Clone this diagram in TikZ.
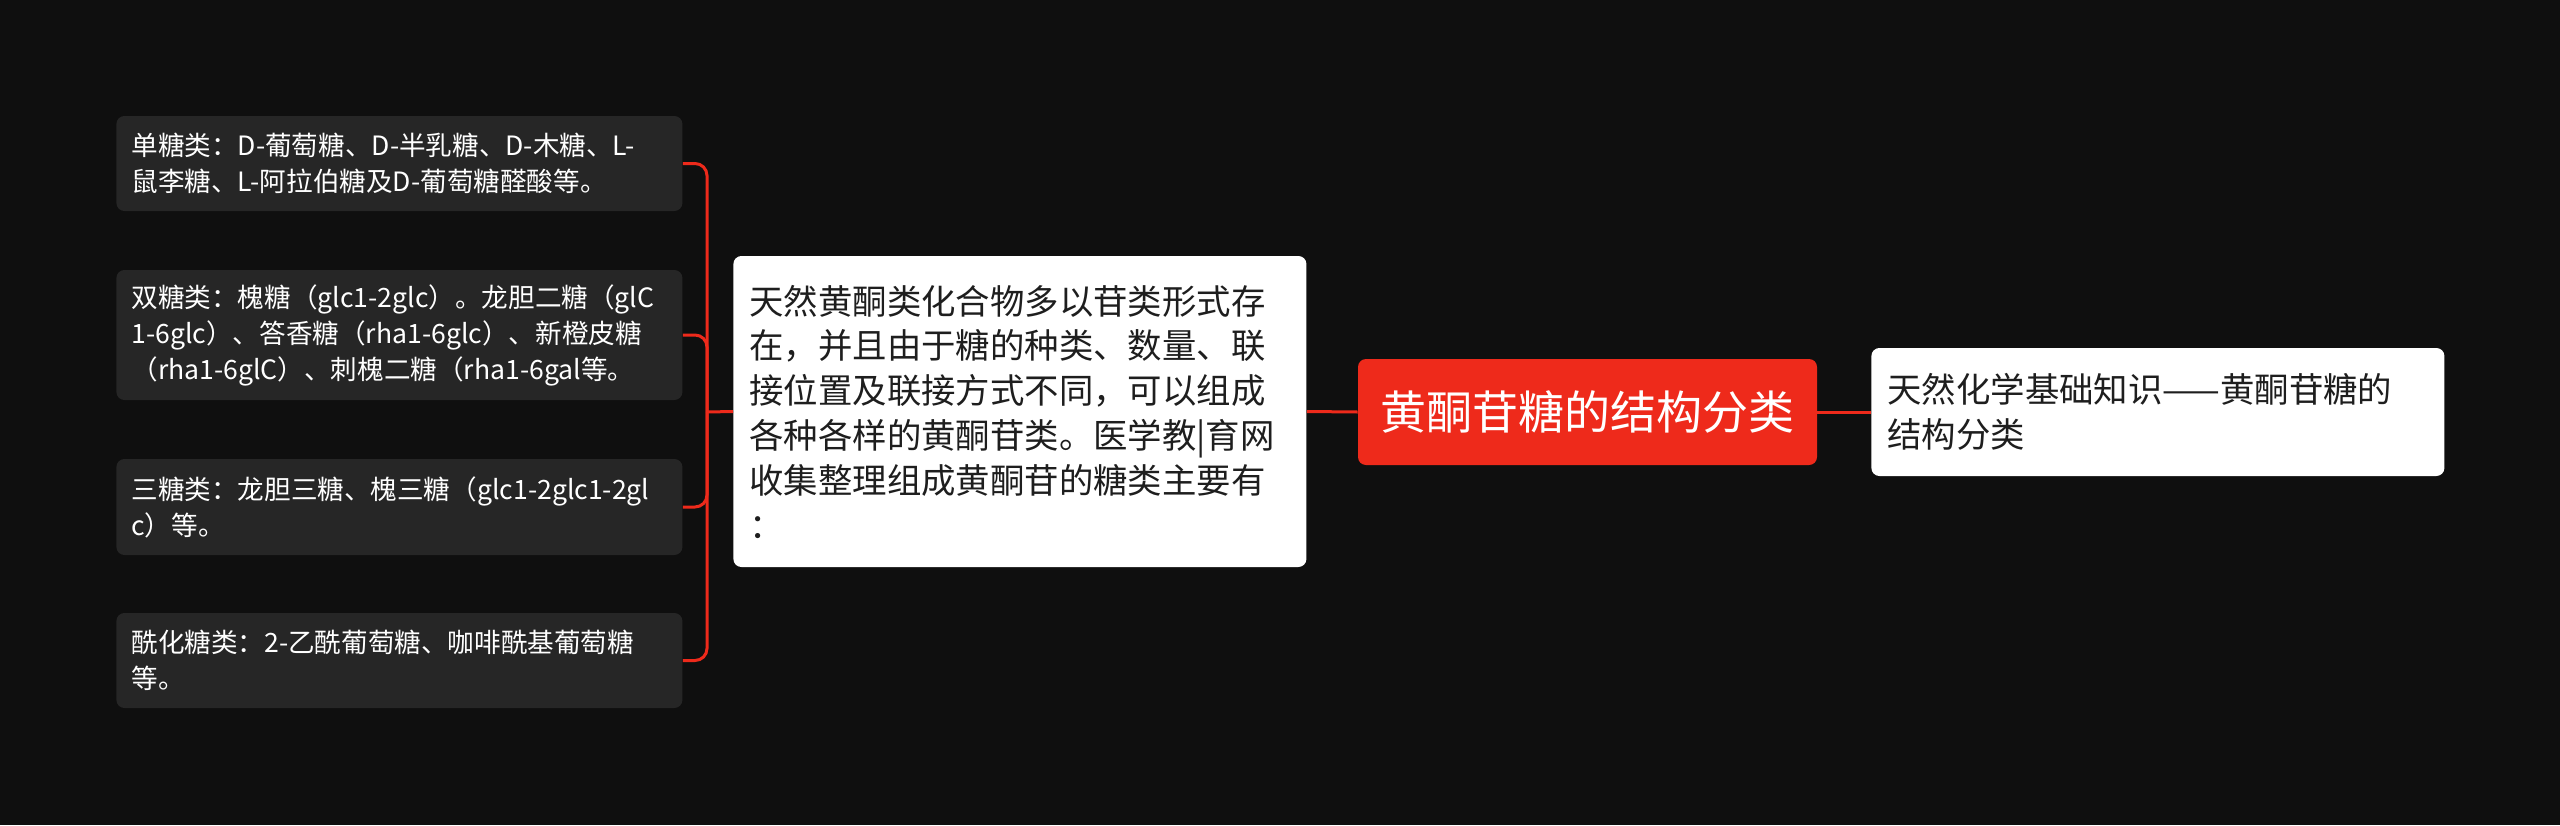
\documentclass[tikz,border=0pt]{standalone}
\usepackage{fontspec}
\setmainfont{Noto Sans CJK SC}
\usepackage{xcolor}
\usetikzlibrary{positioning}
\definecolor{bgdark}{HTML}{0F0F0F}
\definecolor{leafgrey}{HTML}{262626}
\definecolor{rootred}{HTML}{EE2A1B}
\definecolor{inkdark}{HTML}{1E1E1E}

\begin{document}
\begin{tikzpicture}[x=0.5pt,y=-0.5pt,
  leaf/.style={fill=leafgrey,text=white,rounded corners=4pt,anchor=west,inner xsep=7.5pt,inner ysep=0pt,text width=268pt,align=left,font=\fontsize{13.3}{18}\selectfont},
  card/.style={fill=white,text=inkdark,rounded corners=4pt,anchor=west,inner xsep=8pt,inner ysep=0pt,text width=270.5pt,align=left,font=\fontsize{17.2}{22.4}\selectfont},
  link/.style={draw=rootred,line width=1.5pt}]
\fill[bgdark] (0,0) rectangle (2560,825);

\node[leaf,minimum height=47.5pt] (mono) at (116,163.5) {单糖类：D-葡萄糖、D-半乳糖、D-木糖、L-\\鼠李糖、L-阿拉伯糖及D-葡萄糖醛酸等。};
\node[leaf,minimum height=65pt] (di) at (116,335) {双糖类：槐糖（glc1-2glc）。龙胆二糖（glC\\1-6glc）、答香糖（rha1-6glc）、新橙皮糖\\（rha1-6glC）、刺槐二糖（rha1-6gal等。};
\node[leaf,minimum height=48pt] (tri) at (116,507) {三糖类：龙胆三糖、槐三糖（glc1-2glc1-2gl\\c）等。};
\node[leaf,minimum height=47.5pt] (acyl) at (116,660.5) {酰化糖类：2-乙酰葡萄糖、咖啡酰基葡萄糖\\等。};

\node[card,minimum height=155.5pt] (intro) at (733,411.5) {天然黄酮类化合物多以苷类形式存\\在，并且由于糖的种类、数量、联\\接位置及联接方式不同，可以组成\\各种各样的黄酮苷类。医学教|育网\\收集整理组成黄酮苷的糖类主要有\\：};
\node[fill=rootred,text=white,rounded corners=4pt,minimum width=229.5pt,minimum height=53pt,inner sep=0pt,font=\fontsize{23}{28}\selectfont] (root) at (1587.5,412) {黄酮苷糖的结构分类};
\node[card,minimum height=64pt] (src) at (1871,412) {天然化学基础知识——黄酮苷糖的\\结构分类};

\coordinate (hub) at (707,412);
\draw[link] (intro.west) -- (hub);
\foreach \n in {mono,di,tri,acyl} \draw[link,rounded corners=6pt] (hub) |- (\n.east);
\draw[link] (intro.east) -- (root.west);
\draw[link] (root.east) -- (src.west);
\end{tikzpicture}
\end{document}
